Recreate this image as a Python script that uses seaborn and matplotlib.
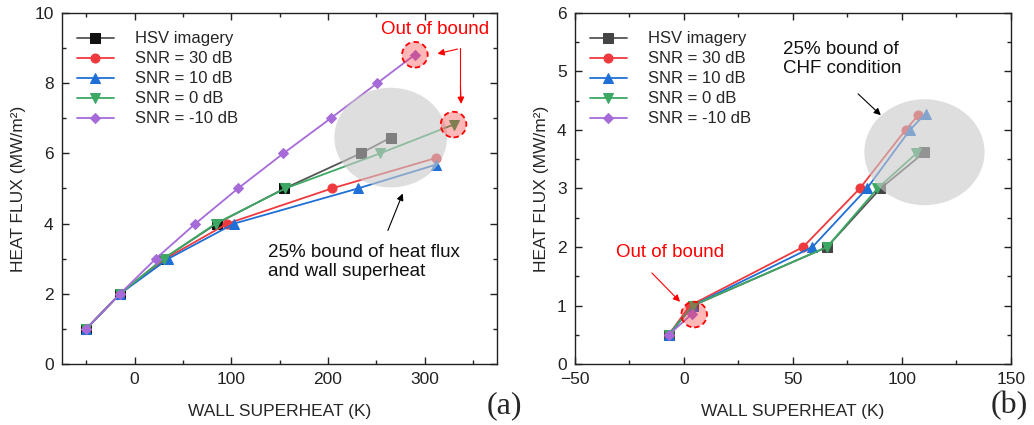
import numpy as np
import pandas as pd
import matplotlib
matplotlib.use("Agg")
import matplotlib.pyplot as plt
from matplotlib.patches import Ellipse
import seaborn as sns

# ---- data: panel (a) ----
a_hsv_x = [-50, -15, 30, 85, 155, 234, 265]
a_hsv_y = [1, 2, 3, 4, 5, 6, 6.45]
a_30_x = [-50, -15, 32, 96, 204, 312]
a_30_y = [1, 2, 3, 4, 5, 5.87]
a_10_x = [-50, -15, 35, 103, 231, 312]
a_10_y = [1, 2, 3, 4, 5, 5.68]
a_0_x = [-50, -15, 30, 84, 156, 254, 330]
a_0_y = [1, 2, 3, 4, 5, 6, 6.82]
a_m10_x = [-50, -15, 22, 63, 107, 154, 203, 251, 290]
a_m10_y = [1, 2, 3, 4, 5, 6, 7, 8, 8.81]

# ---- data: panel (b) ----
b_hsv_x = [-7, 4.3, 65.7, 90.2, 110.4]
b_hsv_y = [0.5, 1.0, 2, 3, 3.62]
b_30_x = [-7, 2.8, 54.7, 80.7, 101.7, 107.5]
b_30_y = [0.5, 1.0, 2, 3, 4, 4.25]
b_10_x = [-7, 4, 59, 84, 103.7, 110.9]
b_10_y = [0.5, 1.0, 2, 3, 4, 4.28]
b_0_x = [-7, 4, 65.7, 88.8, 106.7]
b_0_y = [0.5, 1.0, 2, 3, 3.6]
b_m10_x = [-7, 3.7]
b_m10_y = [0.5, 0.855]

labels = ["HSV imagery", "SNR = 30 dB", "SNR = 10 dB", "SNR = 0 dB", "SNR = -10 dB"]

sns.set_style("ticks")
plt.rcParams["font.family"] = ["Liberation Sans", "DejaVu Sans"]
plt.rcParams["axes.linewidth"] = 1.0
plt.rcParams["xtick.direction"] = "in"
plt.rcParams["ytick.direction"] = "in"

red, blue, green, purple = "#ee3a3f", "#1f6fd6", "#3da864", "#a66bd8"
styles = [
    dict(color="#555555", marker="s", mfc="#111111", mec="#111111"),
    dict(color=red, marker="o", mfc=red, mec=red),
    dict(color=blue, marker="^", mfc=blue, mec=blue),
    dict(color=green, marker="v", mfc=green, mec=green),
    dict(color=purple, marker="D", mfc=purple, mec=purple),
]
styles_b = [dict(s) for s in styles]
styles_b[0].update(mfc="#444444", mec="#444444")

fig = plt.figure(figsize=(10.34, 4.25), dpi=100)
ax_a = fig.add_axes([0.0600, 0.1435, 0.4207, 0.826])
ax_b = fig.add_axes([0.5561, 0.1435, 0.4214, 0.826])


def draw_series(ax, xs, ys, sty):
    for (x, y), lab, st in zip(zip(xs, ys), labels, sty):
        df = pd.DataFrame({"x": x, "y": y})
        sns.lineplot(data=df, x="x", y="y", ax=ax, sort=False, label=lab,
                     color=st["color"], marker=st["marker"],
                     markerfacecolor=st["mfc"], markeredgecolor=st["mec"],
                     markersize=6.5 if st["marker"] != "D" else 5.5,
                     linewidth=1.3, zorder=3)


def style_axes(ax, xlim, ylim, xmaj, xmin, ymaj, ymin):
    ax.set_xlim(*xlim)
    ax.set_ylim(*ylim)
    ax.xaxis.set_major_locator(plt.MultipleLocator(xmaj))
    ax.xaxis.set_minor_locator(plt.MultipleLocator(xmin))
    ax.yaxis.set_major_locator(plt.MultipleLocator(ymaj))
    ax.yaxis.set_minor_locator(plt.MultipleLocator(ymin))
    ax.tick_params(which="both", top=True, right=True, direction="in",
                   colors="#222222", width=1.0)
    ax.tick_params(which="major", length=5, labelsize=12.5, pad=6)
    ax.tick_params(which="minor", length=3)
    for sp in ax.spines.values():
        sp.set_visible(True)
        sp.set_color("#222222")
    ax.set_xlabel("WALL SUPERHEAT (K)", fontsize=12.5, labelpad=12)
    ax.set_ylabel("HEAT FLUX (MW/m²)", fontsize=12.5, labelpad=6)
    ax.legend(loc="upper left", frameon=False, fontsize=12,
              handlelength=2.2, handletextpad=1.3, labelspacing=0.3,
              borderaxespad=0.5, bbox_to_anchor=(0.0, 0.99))


def out_of_bound(ax, x, y):
    ax.scatter([x], [y], s=340, facecolor=(1.0, 0.2, 0.2, 0.35),
               edgecolor="red", linestyle=(0, (3, 2)), linewidth=1.3,
               zorder=5)


# ---- panel (a) ----
draw_series(ax_a,
            [a_hsv_x, a_30_x, a_10_x, a_0_x, a_m10_x],
            [a_hsv_y, a_30_y, a_10_y, a_0_y, a_m10_y], styles)
style_axes(ax_a, (-75, 375), (0, 10), 100, 50, 2, 1)
bound_a = 0.22
ax_a.add_patch(Ellipse((a_hsv_x[-1], a_hsv_y[-1]),
                       2 * bound_a * a_hsv_x[-1], 2 * bound_a * a_hsv_y[-1],
                       facecolor="#c9c9c9", edgecolor="none", alpha=0.6,
                       zorder=4))
out_of_bound(ax_a, a_m10_x[-1], a_m10_y[-1])
out_of_bound(ax_a, a_0_x[-1], a_0_y[-1])
ax_a.text(310.5, 9.52, "Out of bound", color="red", fontsize=13.5,
          ha="center", va="center", zorder=6)
ax_a.plot([337, 337], [8.99, 7.6], color="red", lw=0.8, zorder=6)
ax_a.annotate("", xy=(310.5, 8.82), xytext=(337, 8.99),
              arrowprops=dict(arrowstyle="-|>", color="red", lw=0.8,
                              mutation_scale=10), zorder=6)
ax_a.annotate("", xy=(338, 7.33), xytext=(337, 8.0),
              arrowprops=dict(arrowstyle="-|>", color="red", lw=0.8,
                              mutation_scale=10), zorder=6)
ax_a.annotate("", xy=(278.5, 4.93), xytext=(261, 3.73),
              arrowprops=dict(arrowstyle="-|>", color="black", lw=0.8,
                              mutation_scale=10), zorder=6)
ax_a.text(138, 3.42, "25% bound of heat flux\nand wall superheat",
          fontsize=13.5, ha="left", va="top", linespacing=1.15,
          color="#111111", zorder=6)

# ---- panel (b) ----
draw_series(ax_b,
            [b_hsv_x, b_30_x, b_10_x, b_0_x, b_m10_x],
            [b_hsv_y, b_30_y, b_10_y, b_0_y, b_m10_y], styles_b)
style_axes(ax_b, (-50, 150), (0, 6), 50, 25, 1, 0.5)
bound_b = 0.25
ax_b.add_patch(Ellipse((b_hsv_x[-1], b_hsv_y[-1]),
                       2 * bound_b * b_hsv_x[-1], 2 * bound_b * b_hsv_y[-1],
                       facecolor="#c9c9c9", edgecolor="none", alpha=0.6,
                       zorder=4))
out_of_bound(ax_b, b_m10_x[-1] + 1.0, b_m10_y[-1] - 0.01)
ax_b.text(-6.2, 1.906, "Out of bound", color="red", fontsize=13.5,
          ha="center", va="center", zorder=6)
ax_b.annotate("", xy=(-0.9, 1.03), xytext=(-15.6, 1.59),
              arrowprops=dict(arrowstyle="-|>", color="red", lw=0.8,
                              mutation_scale=10), zorder=6)
ax_b.text(45.4, 5.52, "25% bound of\nCHF condition", fontsize=13.5,
          ha="left", va="top", linespacing=1.15, color="#111111", zorder=6)
ax_b.annotate("", xy=(91.3, 4.22), xytext=(79, 4.65),
              arrowprops=dict(arrowstyle="-|>", color="black", lw=0.8,
                              mutation_scale=10), zorder=6)

fig.text(0.488, 0.045, "(a)", fontsize=23, family="Liberation Serif",
         ha="center", va="center")
fig.text(0.976, 0.045, "(b)", fontsize=23, family="Liberation Serif",
         ha="center", va="center")

fig.savefig("out.png", dpi=100)
